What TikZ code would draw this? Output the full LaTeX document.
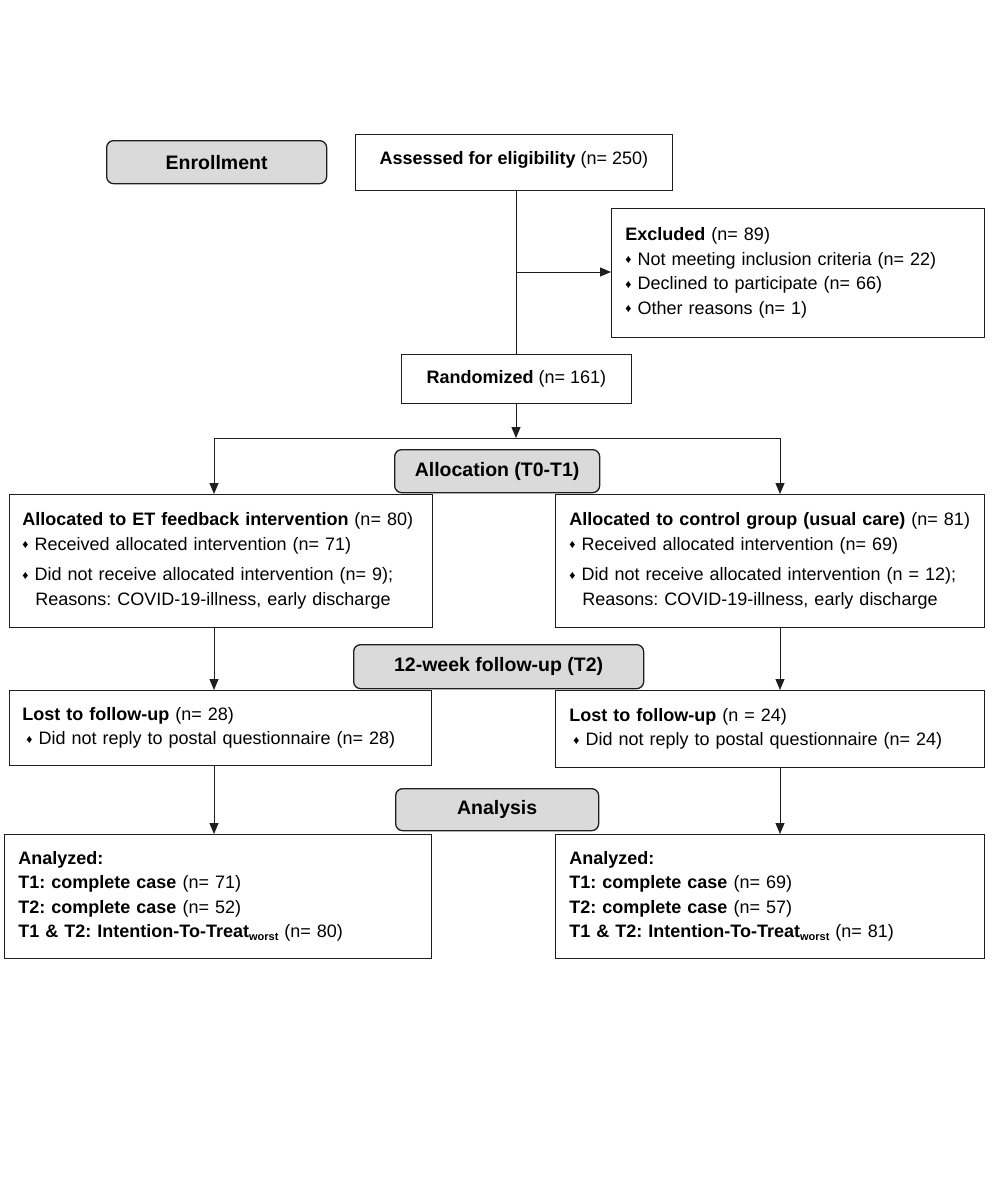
\documentclass[tikz,border=0pt]{standalone}
\usepackage{fontspec}
\setmainfont{Liberation Sans}
\usetikzlibrary{arrows.meta,calc}
\frenchspacing
\definecolor{lineC}{HTML}{1E1E1E}
\definecolor{grayF}{HTML}{DADADA}
\newcommand{\bul}{{\fontsize{12}{12}\selectfont\raisebox{1.5pt}{♦}}\ }
\newcommand{\wst}{\raisebox{-3pt}{\fontsize{11}{11}\selectfont\textbf{worst}}}
\begin{document}
\begin{tikzpicture}[x=1pt,y=-1pt,
  every node/.style={font=\fontsize{18}{24.5}\selectfont, text=black},
  box/.style={draw=lineC, line width=0.9pt, rectangle, anchor=north west, inner ysep=0pt, align=left},
  phase/.style={draw=lineC, line width=1.3pt, fill=grayF, rounded corners=7pt, anchor=north west, inner sep=0pt, align=center, font=\fontsize{19.5}{22}\selectfont\bfseries},
  arr/.style={draw=lineC, line width=1pt, -{Triangle[length=11pt,width=9pt]}},
  ln/.style={draw=lineC, line width=1pt}]
\useasboundingbox (0,0) rectangle (992,1200);

% phase labels
\node[phase, minimum width=220pt, minimum height=43pt] (enr) at (106,140) {Enrollment};
\node[phase, minimum width=205pt, minimum height=43pt] (alloc) at (394,449) {Allocation (T0-T1)};
\node[phase, minimum width=290pt, minimum height=44pt] (fu) at (353,644) {12-week follow-up (T2)};
\node[phase, minimum width=203pt, minimum height=42pt] (ana) at (395,788) {Analysis};

% enrollment
\node[box, align=center, inner xsep=0pt, minimum width=317pt, minimum height=56pt] (assess) at (355,134) {\textbf{Assessed for eligibility} (n= 250)\vphantom{\raisebox{-6pt}{y}}};
\node[box, inner xsep=14pt, text width=345pt, minimum height=129pt] (excl) at (611,208)
  {\textbf{Excluded} (n= 89)\\
   \bul Not meeting inclusion criteria (n= 22)\\
   \bul Declined to participate (n= 66)\\
   \bul Other reasons (n= 1)};
\node[box, align=center, inner xsep=0pt, minimum width=230pt, minimum height=49pt] (rand) at (401,354) {\textbf{Randomized} (n= 161)};

% allocation
\node[box, inner xsep=13pt, text width=397pt, minimum height=133pt] (alL) at (9,494)
  {\textbf{Allocated to ET feedback intervention} (n= 80)\\
   \bul Received allocated intervention (n= 71)\\[6pt]
   \bul Did not receive allocated intervention (n= 9);\\
   \hspace*{13pt}Reasons: COVID-19-illness, early discharge};
\node[box, inner xsep=14pt, text width=401pt, minimum height=133pt] (alR) at (555,494)
  {\textbf{Allocated to control group (usual care)} (n= 81)\\
   \bul Received allocated intervention (n= 69)\\[6pt]
   \bul Did not receive allocated intervention (n = 12);\\
   \hspace*{13pt}Reasons: COVID-19-illness, early discharge};

% follow-up
\node[box, inner xsep=13pt, text width=396pt, minimum height=75pt] (lostL) at (9,690)
  {\textbf{Lost to follow-up} (n= 28)\\
   \hspace*{4pt}\bul Did not reply to postal questionnaire (n= 28)};
\node[box, inner xsep=14pt, text width=401pt, minimum height=77pt] (lostR) at (555,690)
  {\textbf{Lost to follow-up} (n = 24)\\
   \hspace*{4pt}\bul Did not reply to postal questionnaire (n= 24)};

% analysis
\node[box, inner xsep=14pt, text width=399pt, minimum height=124pt] (anL) at (4,834)
  {\textbf{Analyzed:}\\
   \textbf{T1: complete case} (n= 71)\\
   \textbf{T2: complete case} (n= 52)\\
   \textbf{T1 \& T2: Intention-To-Treat}\wst{} (n= 80)};
\node[box, inner xsep=14pt, text width=401pt, minimum height=124pt] (anR) at (555,834)
  {\textbf{Analyzed:}\\
   \textbf{T1: complete case} (n= 69)\\
   \textbf{T2: complete case} (n= 57)\\
   \textbf{T1 \& T2: Intention-To-Treat}\wst{} (n= 81)};

% connectors
\coordinate (trunk) at (516,190);
\coordinate (br) at (516,272);
\coordinate (split) at (516,438);
\coordinate (sL) at (214,438);
\coordinate (sR) at (780,438);

\draw[ln] (trunk |- assess.south) -- (trunk |- rand.north);
\draw[arr] (br) -- (br -| excl.west);
\draw[arr] (split |- rand.south) -- (split);
\draw[ln] (sL) -- (sR);
\draw[arr] (sL) -- (sL |- alL.north);
\draw[arr] (sR) -- (sR |- alR.north);
\draw[arr] (sL |- alL.south) -- (sL |- lostL.north);
\draw[arr] (sR |- alR.south) -- (sR |- lostR.north);
\draw[arr] (sL |- lostL.south) -- (sL |- anL.north);
\draw[arr] (sR |- lostR.south) -- (sR |- anR.north);
\end{tikzpicture}
\end{document}
